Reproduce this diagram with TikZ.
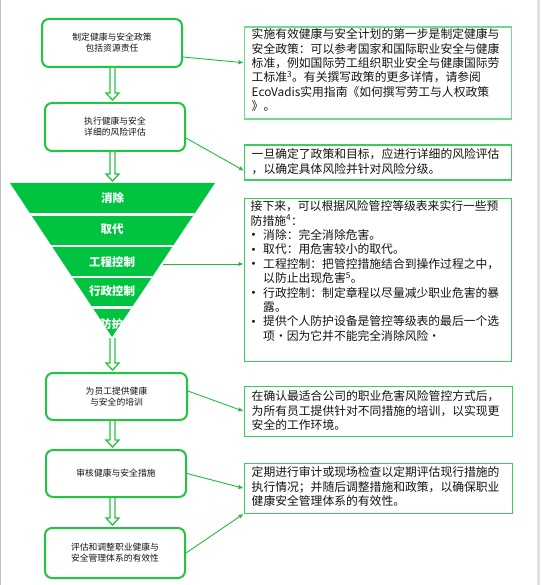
\documentclass[tikz,border=0pt]{standalone}
\usepackage{fontspec}
\setmainfont{Noto Sans CJK SC}
\newfontfamily\dejavu{DejaVu Sans}
\usetikzlibrary{arrows.meta,calc}
\definecolor{bgreen}{RGB}{34,197,66}
\definecolor{tgreen}{RGB}{0,196,64}
\definecolor{rgreen}{RGB}{60,205,95}
\definecolor{rgreenl}{RGB}{110,220,140}
\definecolor{cgreen}{RGB}{30,190,60}
\definecolor{txt}{RGB}{20,20,20}
\newcommand\hollowarr[2]{%
  \draw[harrow] let \p1=(#1), \p2=(#2), \p3=(ax) in
    (\x3-2.5pt,\y1) -- (\x3-2.5pt,\y2+9pt) -- (\x3-6.5pt,\y2+9pt) -- (\x3,\y2+2pt)
    -- (\x3+6.5pt,\y2+9pt) -- (\x3+2.5pt,\y2+9pt) -- (\x3+2.5pt,\y1);}
\newcommand\bul{\makebox[12.5pt][l]{\raisebox{0.5pt}{\dejavu\fontsize{10}{10}\selectfont •}}}
\begin{document}
\begin{tikzpicture}[x=1pt,y=-1pt,
  lbox/.style={draw=bgreen, line width=2pt, rounded corners=7pt, fill=white,
    align=center, text=txt, font=\fontsize{8.8}{11}\selectfont, inner sep=0pt},
  rbox/.style={draw=rgreen, line width=1.4pt, inner sep=0pt, anchor=north west},
  rtext/.style={anchor=north west, align=left, inner sep=0pt, text=txt,
    font=\fontsize{11.8}{14.4}\selectfont},
  tlabel/.style={text=white, font=\fontsize{11.5}{13}\selectfont\bfseries, inner sep=0pt},
  harrow/.style={draw=bgreen, line width=1.3pt, fill=white, line join=miter},
  conn/.style={draw=cgreen, line width=0.9pt, -{Latex[length=5pt,width=4.5pt]}}]
\useasboundingbox (0,0) rectangle (540,585);
\fill[white] (0,0) rectangle (540,585);
\fill[black!12] (537,0) rectangle (540,585);
\draw[black!25, line width=0.8pt] (0.4,0) -- (0.4,585);
\coordinate (ax) at (112.5,0);

% left boxes
\node[lbox, minimum width=140, minimum height=48] (b1) at (112,43) {制定健康与安全政策\\包括资源责任};
\node[lbox, minimum width=140, minimum height=48] (b2) at (115,127) {执行健康与安全\\详细的风险评估};
\node[lbox, minimum width=141, minimum height=47] (b3) at (116.5,396.5) {为员工提供健康\\与安全的培训};
\node[lbox, minimum width=140, minimum height=47] (b4) at (116,473.5) {审核健康与安全措施};
\node[lbox, minimum width=140, minimum height=50] (b5) at (115,553) {评估和调整职业健康与\\安全管理体系的有效性};

% triangle
\coordinate (ttop) at (112.5,183);
\coordinate (tapex) at (112,338);
\coordinate (tedge) at (163,264);
\fill[tgreen] (10,183) -- (215,183) -- (112,337) -- cycle;
\begin{scope}
  \clip (10,183) -- (215,183) -- (112,337) -- cycle;
  \foreach \yy in {214.3,245.8,276.8,307.6}
    \draw[white, line width=2.6pt] (0,\yy) -- (230,\yy);
  \node[tlabel] (l1) at (112.5,198) {消除};
  \node[tlabel] (l2) at (112,229) {取代};
  \node[tlabel] (l3) at (112,262) {工程控制};
  \node[tlabel] (l4) at (112,291) {行政控制};
  \node[tlabel] (l5) at (111.5,324) {防护};
\end{scope}

% hollow arrows
\hollowarr{b1.south}{b2.north}
\hollowarr{b2.south}{ttop}
\hollowarr{tapex}{b3.north}
\hollowarr{b3.south}{b4.north}
\hollowarr{b4.south}{b5.north}

% right boxes
\node[rbox, draw=rgreenl, minimum width=267, minimum height=92] (r1) at (243.5,26.5) {};
\node[rtext] (t1) at (251.5,28.5) {实施有效健康与安全计划的第一步是制定健康与\\安全政策：可以参考国家和国际职业安全与健康\\标准，例如国际劳工组织职业安全与健康国际劳\\工标准\textsuperscript{3}。有关撰写政策的更多详情，请参阅\\EcoVadis实用指南《如何撰写劳工与人权政策\\》。};

\node[rbox, minimum width=267, minimum height=35] (r2) at (244,144.5) {};
\node[rtext] (t2) at (251.5,148.5) {一旦确定了政策和目标，应进行详细的风险评估\\，以确定具体风险并针对风险分级。};

\node[rbox, minimum width=267, minimum height=163] (r3) at (243.5,197.5) {};
\node[rtext] (t3) at (250.5,200.5) {接下来，可以根据风险管控等级表来实行一些预\\防措施\textsuperscript{4}：\\
\bul 消除：完全消除危害。\\
\bul 取代：用危害较小的取代。\\
\bul 工程控制：把管控措施结合到操作过程之中，\\
\hspace*{12.5pt}以防止出现危害\textsuperscript{5}。\\
\bul 行政控制：制定章程以尽量减少职业危害的暴\\
\hspace*{12.5pt}露。\\
\bul 提供个人防护设备是管控等级表的最后一个选\\
\hspace*{12.5pt}项・因为它并不能完全消除风险・};

\node[rbox, minimum width=268, minimum height=50] (r4) at (243.5,385.5) {};
\node[rtext] (t4) at (251.5,390.5) {在确认最适合公司的职业危害风险管控方式后，\\为所有员工提供针对不同措施的培训，以实现更\\安全的工作环境。};

\node[rbox, minimum width=268, minimum height=50] (r5) at (243.5,462.5) {};
\node[rtext] (t5) at (251.5,466.5) {定期进行审计或现场检查以定期评估现行措施的\\执行情况；并随后调整措施和政策，以确保职业\\健康安全管理体系的有效性。};

% connectors
\draw[conn] ($(b1.east)+(0,14)$) -- ($(r1.west)+(0,-10.5)$);
\draw[conn] ($(b2.east)+(0,11)$) -- ($(r2.west)+(0,8)$);
\draw[conn] (tedge) -- (tedge -| r3.west);
\draw[conn] ($(b3.east)+(0,-5.5)$) -- (r4.west);
\draw[conn] (b4.east) -- (r5.west);
\draw[conn] (b5.east) -- (r5.south west);
\end{tikzpicture}
\end{document}
